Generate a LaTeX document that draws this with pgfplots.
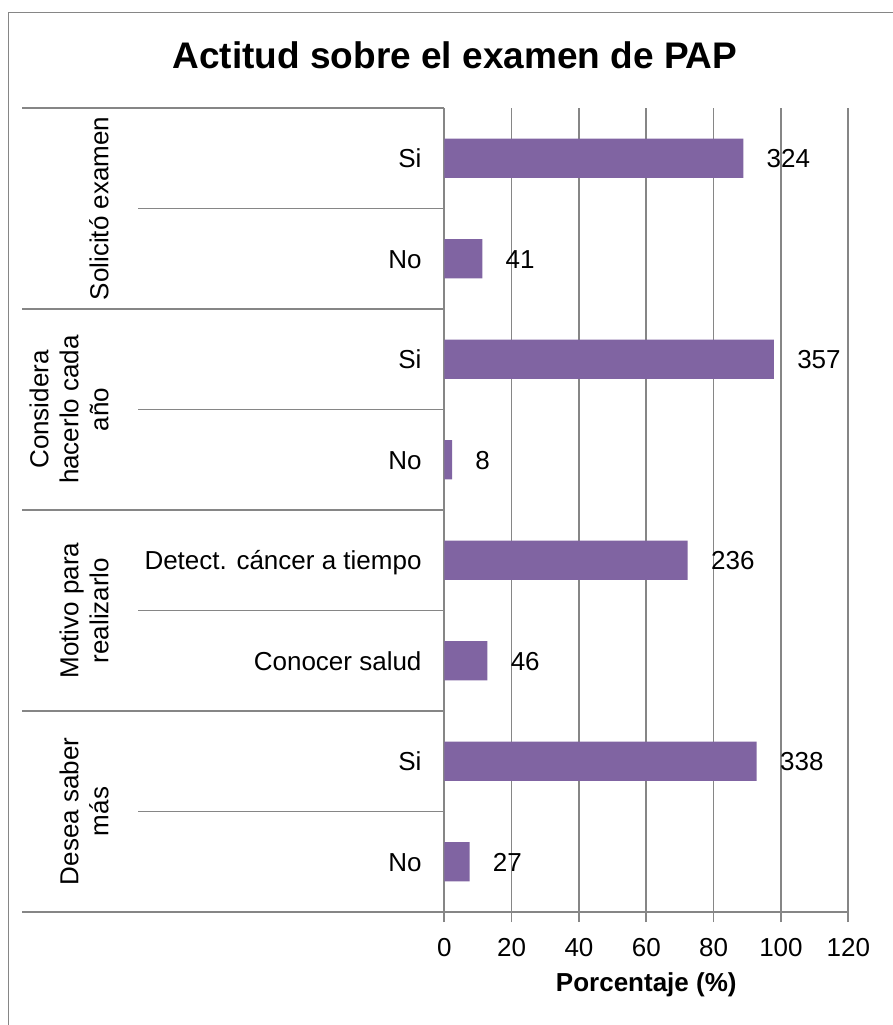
\documentclass[border=0pt]{standalone}
\usepackage{pgfplots}
\pgfplotsset{compat=1.18}
\usepackage{fontspec}
\setmainfont{Liberation Sans}
\definecolor{barc}{HTML}{8064A2}
\definecolor{gridc}{HTML}{868686}
\begin{document}
\begin{tikzpicture}
\useasboundingbox (0,0) rectangle (446.5pt,-512.5pt);
\begin{scope}[x=0.5pt,y=-0.5pt]
 \draw[gridc, line width=0.8pt] (8.3,1040) -- (8.3,12.3) -- (910,12.3);
 \foreach \y in {108,309,510,711,912} \draw[gridc, line width=0.85pt] (22,\y) -- (444.3,\y);
 \foreach \y in {208.5,409.5,610.5,811.5} \draw[gridc, line width=0.85pt] (138,\y) -- (444.3,\y);
 \begin{scope}[every node/.style={rotate=90, anchor=south, inner sep=0pt, align=center, font=\fontsize{13}{15}\selectfont}]
  \node at (109,208.5) {Solicitó examen};
  \node at (109,409.5) {Considera\\hacerlo cada\\año};
  \node at (109,610.5) {Motivo para\\realizarlo};
  \node at (109,811.5) {Desea saber\\más};
 \end{scope}
 \node[font=\bfseries\fontsize{18.5}{22}\selectfont, anchor=base, inner sep=0pt] at (455,68.3) {Actitud sobre el examen de PAP};
\end{scope}
\begin{axis}[
 at={(222.15pt,-456pt)}, anchor=south west,
 scale only axis, width=202pt, height=402pt,
 clip=false,
 xbar, bar width=19.6pt, bar shift=0pt,
 xmin=0, xmax=120, xtick={0,20,...,120},
 ymin=-0.5, ymax=7.5,
 ytick={0,...,7},
 yticklabels={No,Si,{Conocer salud},{Detect. cáncer a tiempo},No,Si,No,Si},
 axis x line=bottom, axis y line=left,
 axis line style={-, gridc, line width=0.85pt},
 xmajorgrids, grid style={gridc, line width=0.85pt},
 tick align=outside, major tick length=5pt,
 xtick style={gridc, line width=0.85pt},
 ytick style={draw=none},
 /pgf/number format/assume math mode=true,
 xticklabel style={font=\fontsize{13}{15}\selectfont, anchor=base, inner sep=0pt, yshift=-17pt},
 yticklabel style={font=\fontsize{13}{15}\selectfont, anchor=base east, inner sep=0pt, xshift=-6.2pt, yshift=-4.65pt},
 xlabel={Porcentaje (\%)},
 xlabel style={font=\bfseries\fontsize{13}{15}\selectfont, at={(axis description cs:0.5,0)}, anchor=base, inner sep=0pt, yshift=-39.5pt},
]
\addplot[fill=barc, draw=none, nodes near coords, point meta=explicit symbolic,
 every node near coord/.append style={font=\fontsize{13}{15}\selectfont, anchor=base west, inner sep=0pt, xshift=11.5pt, yshift=-4.65pt, text=black}]
 coordinates {
 (88.8,7) [324]
 (11.3,6) [41]
 (97.9,5) [357]
 (2.3,4) [8]
 (72.3,3) [236]
 (12.8,2) [46]
 (92.8,1) [338]
 (7.5,0) [27]
 };
\end{axis}
\end{tikzpicture}
\end{document}
